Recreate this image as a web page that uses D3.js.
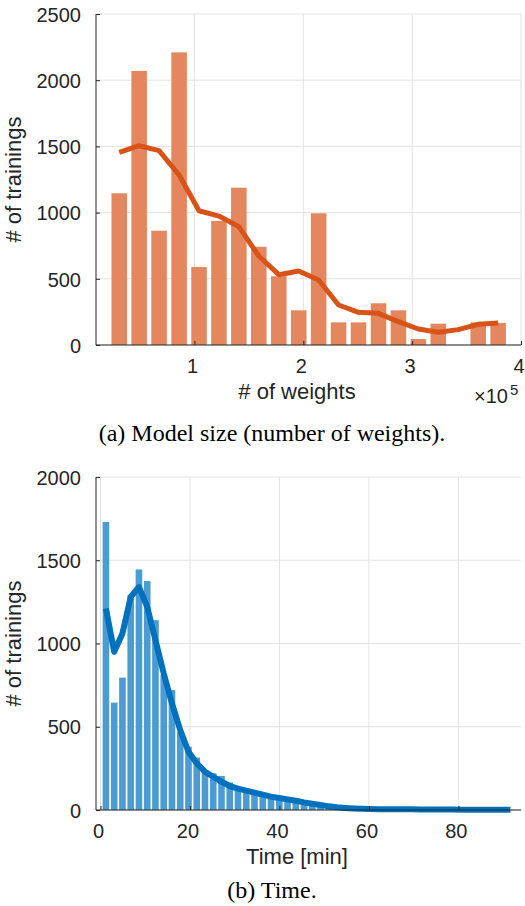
<!DOCTYPE html>
<html>
<head>
<meta charset="utf-8">
<script src="https://cdn.jsdelivr.net/npm/d3@7"></script>
<style>
    body { margin: 0; background: #fff; }
    .tick text { font-family: "Liberation Sans", Arial, sans-serif; fill: #262626; }
</style>
</head>
<body>
<script>
// (a) bin centres in number of weights, bar counts and smoothed curve
var weightBins = [30900, 49200, 67500, 85900, 104200, 122500, 140800, 159100, 177500, 195800,
    214100, 232400, 250700, 269100, 287400, 305700, 324000, 342300, 360700, 379000];
var weightCounts = [1146, 2070, 863, 2210, 589, 937, 1188, 742, 519, 262,
    995, 171, 171, 315, 262, 45, 161, 0, 171, 166];
var weightSmooth = [1455, 1505, 1468, 1284, 1014, 974, 894, 672, 531, 559,
    491, 302, 247, 239, 176, 121, 96, 116, 156, 166];
var weightTicksX = [100000, 200000, 300000, 400000];
var weightTicksY = [0, 500, 1000, 1500, 2000, 2500];

// (b) bin centres in minutes, bar counts and smoothed curve
var timeBins = [1.22, 3.07, 4.91, 6.76, 8.60, 10.45, 12.29, 14.14, 15.98, 17.83,
    19.67, 21.52, 23.36, 25.21, 27.05, 28.90, 30.74, 32.59, 34.43, 36.28,
    38.12, 39.97, 41.81, 43.66, 45.50, 47.35, 49.19, 51.04, 52.88, 54.73,
    56.57, 58.42, 60.26, 62.11, 63.95, 65.80, 67.64, 69.49, 71.33, 73.18,
    75.02, 76.87, 78.71, 80.56, 82.40, 84.25, 86.09, 87.94, 89.78, 91.63];
var timeCounts = [1730, 645, 795, 1290, 1445, 1375, 1140, 810, 720, 470,
    380, 315, 240, 220, 205, 165, 140, 128, 112, 100,
    88, 78, 68, 58, 45, 40, 30, 20, 12, 8,
    6, 5, 4, 3, 3, 2, 2, 2, 1, 1,
    1, 1, 1, 1, 1, 1, 1, 1, 1, 1];
var timeSmooth = [1210, 950, 1060, 1280, 1340, 1220, 1020, 820, 640, 480,
    350, 280, 230, 200, 170, 144, 128, 116, 104, 92,
    80, 72, 64, 56, 46, 38, 30, 22, 16, 12,
    9, 7, 6, 5, 5, 4, 4, 4, 3, 3,
    3, 3, 3, 2, 2, 2, 2, 2, 2, 2];
var timeTicksX = [0, 20, 40, 60, 80];
var timeTicksY = [0, 500, 1000, 1500, 2000];

window.onload = function(){

    var w = 525, h = 906;

    var svg = d3.select("body")
        .append("svg")
        .attr("width", w)
        .attr("height", h);

    // draws one histogram panel with its smoothed line
    function panel(opt){
        var x = d3.scaleLinear().domain(opt.xDomain).range([96, 521]);
        var y = d3.scaleLinear().domain(opt.yDomain).range([opt.bottom, opt.top]);
        var g = svg.append("g");

        // grid lines
        g.append("g").selectAll("line")
            .data(opt.xTicks)
            .enter()
            .append("line")
            .attr("x1", function(d){ return x(d); })
            .attr("x2", function(d){ return x(d); })
            .attr("y1", opt.top)
            .attr("y2", opt.bottom)
            .style("stroke", "#e3e3e3");
        g.append("g").selectAll("line")
            .data(opt.yTicks)
            .enter()
            .append("line")
            .attr("x1", 96)
            .attr("x2", 521)
            .attr("y1", function(d){ return y(d); })
            .attr("y2", function(d){ return y(d); })
            .style("stroke", "#e3e3e3");

        // bar width from the bin spacing
        var pitch = x(opt.bins[1]) - x(opt.bins[0]);
        var bw = pitch * opt.barFrac;

        g.append("g").selectAll("rect")
            .data(opt.counts)
            .enter()
            .append("rect")
            .attr("x", function(d, i){ return x(opt.bins[i]) - bw / 2; })
            .attr("width", bw)
            .attr("y", function(d){ return y(d); })
            .attr("height", function(d){ return y(0) - y(d); })
            .style("fill", opt.barColor);

        var line = d3.line()
            .x(function(d, i){ return x(opt.bins[i]); })
            .y(function(d){ return y(d); });

        g.append("path")
            .datum(opt.smooth)
            .attr("d", line)
            .style("fill", "none")
            .style("stroke", opt.lineColor)
            .style("stroke-width", opt.lineWidth)
            .style("stroke-linejoin", "round");

        // axes, ticks pointing inward
        var xAxis = d3.axisTop(x)
            .tickValues(opt.xTicks)
            .tickSize(4)
            .tickFormat(opt.xFormat);
        var gx = g.append("g")
            .attr("transform", "translate(0," + opt.bottom + ")")
            .call(xAxis);
        gx.selectAll(".tick text")
            .attr("y", 28)
            .attr("dy", 0)
            .attr("x", -2.5)
            .style("font-size", "20px");

        var yAxis = d3.axisRight(y)
            .tickValues(opt.yTicks)
            .tickSize(4)
            .tickFormat(d3.format("d"));
        var gy = g.append("g")
            .attr("transform", "translate(96,0)")
            .call(yAxis);
        gy.selectAll(".tick text")
            .attr("x", -15)
            .attr("dy", "0.36em")
            .attr("text-anchor", "end")
            .style("font-size", "20px");

        gx.select(".domain").remove();
        gy.select(".domain").remove();
        gx.selectAll(".tick line").style("stroke", "#262626");
        gy.selectAll(".tick line").style("stroke", "#262626");

        // axis lines (left and bottom only)
        g.append("line")
            .attr("x1", 96).attr("x2", 96)
            .attr("y1", opt.top).attr("y2", opt.bottom)
            .style("stroke", "#262626");
        g.append("line")
            .attr("x1", 96).attr("x2", 521)
            .attr("y1", opt.bottom).attr("y2", opt.bottom)
            .style("stroke", "#262626");

        // axis titles
        g.append("text")
            .attr("x", 297)
            .attr("y", opt.bottom + 54)
            .attr("text-anchor", "middle")
            .style("font-family", "'Liberation Sans', Arial, sans-serif")
            .style("font-size", "22px")
            .style("fill", "#262626")
            .text(opt.xLabel);

        g.append("text")
            .attr("transform", "translate(21," + (opt.top + opt.bottom) / 2 + ") rotate(-90)")
            .attr("text-anchor", "middle")
            .style("font-family", "'Liberation Sans', Arial, sans-serif")
            .style("font-size", "22px")
            .style("fill", "#262626")
            .text("# of trainings");

        // caption under the panel
        svg.append("text")
            .attr("x", 272)
            .attr("y", opt.captionY)
            .attr("text-anchor", "middle")
            .style("font-family", "'Liberation Serif', 'Times New Roman', serif")
            .style("font-size", "24px")
            .style("fill", "#000")
            .text(opt.caption);

        return g;
    }

    var ga = panel({
        bins: weightBins, counts: weightCounts, smooth: weightSmooth,
        xDomain: [9550, 400000], yDomain: [0, 2500],
        xTicks: weightTicksX, yTicks: weightTicksY,
        xFormat: function(d){ return d / 100000; },
        top: 14, bottom: 345,
        barFrac: 0.78, barColor: "#e4875e",
        lineColor: "#d95319", lineWidth: 5,
        xLabel: "# of weights",
        caption: "(a) Model size (number of weights).", captionY: 441
    });

    // exponent label for the weight axis
    ga.append("text")
        .attr("x", 508)
        .attr("y", 403)
        .attr("text-anchor", "end")
        .style("font-family", "'Liberation Sans', Arial, sans-serif")
        .style("font-size", "20px")
        .style("fill", "#262626")
        .text("\u00d710");
    ga.append("text")
        .attr("x", 510)
        .attr("y", 395)
        .style("font-family", "'Liberation Sans', Arial, sans-serif")
        .style("font-size", "15px")
        .style("fill", "#262626")
        .text("5");

    panel({
        bins: timeBins, counts: timeCounts, smooth: timeSmooth,
        xDomain: [-1, 94], yDomain: [0, 2000],
        xTicks: timeTicksX, yTicks: timeTicksY,
        xFormat: function(d){ return d; },
        top: 477, bottom: 810,
        barFrac: 0.8, barColor: "#4c9cd1",
        lineColor: "#0072bd", lineWidth: 6,
        xLabel: "Time [min]",
        caption: "(b) Time.", captionY: 898
    });
};
</script>
</body>
</html>
